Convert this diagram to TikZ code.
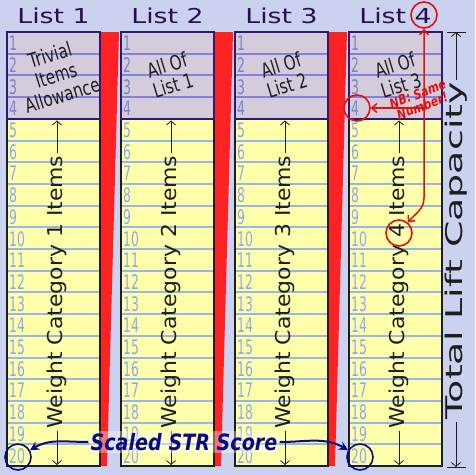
\documentclass[tikz,border=0pt]{standalone}
\usepackage{fontspec}
\setmainfont{DejaVu Sans}
\newfontfamily\titrefont[FakeStretch=1.3]{DejaVu Sans}
\newfontfamily\chiffrefont[FakeStretch=0.62]{DejaVu Sans}
\newfontfamily\etroitfont[FakeStretch=0.76]{DejaVu Sans}
\newfontfamily\nbfont[FakeStretch=0.8]{DejaVu Sans}
\newfontfamily\poidsfont[FakeStretch=1.07]{DejaVu Sans}
\newfontfamily\capfont[FakeStretch=1.65]{DejaVu Sans}
\newfontfamily\scorefont[FakeStretch=0.85]{DejaVu Sans}
\usetikzlibrary{arrows.meta}

\definecolor{fond}{RGB}{202,210,240}
\definecolor{titre}{RGB}{44,12,80}
\definecolor{jaune}{RGB}{255,255,170}
\definecolor{gris}{RGB}{212,204,218}
\definecolor{bord}{RGB}{44,26,112}
\definecolor{noir}{RGB}{30,30,30}
\definecolor{lignej}{RGB}{150,182,238}
\definecolor{ligneg}{RGB}{130,130,220}
\definecolor{numj}{RGB}{136,170,238}
\definecolor{numg}{RGB}{120,130,210}
\definecolor{rouge}{RGB}{255,34,34}
\definecolor{annotrouge}{RGB}{228,16,16}
\definecolor{marine}{RGB}{10,10,130}

\tikzset{
  titreliste/.style={inner sep=0pt, text=titre, font=\titrefont\fontsize{20.5}{24}\selectfont},
  numero/.style={anchor=west, inner sep=0pt, font=\chiffrefont\fontsize{20}{20}\selectfont},
  entete/.style={rotate=17, align=center, text=noir, inner sep=0pt,
    font=\etroitfont\fontsize{20}{21}\selectfont},
  poids/.style={rotate=90, inner sep=2pt, text=noir, font=\poidsfont\fontsize{20.5}{24}\selectfont},
  capacite/.style={rotate=90, inner sep=2pt, text=noir, font=\capfont\fontsize{23}{26}\selectfont},
  cote/.style={draw=noir, line width=0.8pt, -{Straight Barb[length=4pt,width=9pt]}},
  annot/.style={draw=annotrouge, line width=1.5pt},
  rond/.style={circle, draw=#1, line width=1.6pt, minimum size=26pt, inner sep=0pt},
  nb/.style={rotate=21, align=center, text=annotrouge, inner sep=0pt,
    font=\nbfont\bfseries\itshape\fontsize{13.5}{13}\selectfont},
  score/.style={text=marine, fill=white, fill opacity=0.35, text opacity=1, inner sep=2pt,
    font=\scorefont\bfseries\itshape\fontsize{22.5}{24}\selectfont},
}

\begin{document}
\begin{tikzpicture}  % ------ Quatre listes et capacite totale -------
      [x=1pt, y=-1pt]

    \useasboundingbox (0,0) rectangle (475,475);
    \fill[fond] (0,0) rectangle (475,475);

    \foreach \i in {1,...,4} {
      \pgfmathsetmacro\xg{7+114*(\i-1)}
      \pgfmathsetmacro\xd{\xg+93}
      % coin rouge entre deux listes
      \ifnum\i<4 \fill[rouge] (\xd,32) -- (\xd+19,32) -- (\xd+7,466) -- (\xd,466) -- cycle; \fi
      \fill[jaune] (\xg,118.8) rectangle (\xd,466);
      \fill[gris] (\xg,32) rectangle (\xd,118.8);
      \foreach \r in {1,...,19} {
        \ifnum\r<4 \def\couleur{ligneg}\else\def\couleur{lignej}\fi
        \draw[\couleur, line width=2pt] (\xg,32+\r*21.7) -- (\xd,32+\r*21.7);
      }
      \foreach \r in {1,...,20} {
        \ifnum\r<5 \def\couleur{numg}\else\def\couleur{numj}\fi
        \node[numero, text=\couleur] (n\i-\r) at (\xg+2,32+\r*21.7-10.2) {\r};
      }
      \draw[noir, line width=1.5pt] (\xg,32) rectangle (\xd,466);
      \draw[bord, line width=1.5pt] (\xg,32) rectangle (\xd,118.8);
      \node[titreliste] (titre\i) at (\xg+46.5,16) {List \i};
      % fleches de la categorie de poids
      \node[poids] (poids\i) at (\xg+50,292) {Weight Category \i\ Items};
      \coordinate (hautj\i) at (\xg+50,120.5);
      \coordinate (basj\i) at (\xg+50,465);
      \draw[cote] (poids\i.east) -- (hautj\i);
      \draw[cote] (poids\i.west) -- (basj\i);
    }

    \foreach \i/\etiquette in {1/{Trivial\\Items\\Allowance}, 2/{All Of\\List 1},
                               3/{All Of\\List 2}, 4/{All Of\\List 3}}
      \node[entete] (entete\i) at (7+114*\i-114+49,75) {\etiquette};

    % capacite totale
    \node[capacite] (capacite) at (456,251) {Total Lift Capacity};
    \coordinate (capH) at (456,32);
    \coordinate (capB) at (456,467);
    \draw[cote] (capacite.east) -- (capH);
    \draw[cote] (capacite.west) -- (capB);
    \draw[noir, line width=0.8pt] (447,32) -- (466,32);
    \draw[noir, line width=0.8pt] (447,467) -- (466,467);

    % NB : meme numero
    \node[rond=annotrouge] (rondA) at (424,15) {};
    \node[rond=annotrouge] (rondB) at (357,108) {};
    \node[rond=annotrouge] (rondC) at (399,233) {};
    \coordinate (coudeA) at (424,108);
    \coordinate (coudeB) at (424,198);
    \draw[annot, {Straight Barb[length=5pt,width=9pt]}-{Straight Barb[length=5pt,width=9pt]}]
        (rondA.south) -- (coudeB) to[out=-90,in=50] (rondC.50);
    \draw[annot, -{Straight Barb[length=5pt,width=9pt]}] (coudeA) -- (rondB.east);
    \node[nb] (nb) at (420,100) {NB: Same\\Number!};

    % score STR
    \node[rond=marine] (rond20a) at (18,457) {};
    \node[rond=marine] (rond20d) at (360,457) {};
    \node[score] (score) at (184,442) {Scaled STR Score};
    \draw[marine, line width=2pt, -{Stealth[length=9pt,width=9pt]}]
        (score.west) to[out=180,in=30] (rond20a.30);
    \draw[marine, line width=2pt, -{Stealth[length=9pt,width=9pt]}]
        (score.east) to[out=0,in=150] (rond20d.150);
\end{tikzpicture}
\end{document}
